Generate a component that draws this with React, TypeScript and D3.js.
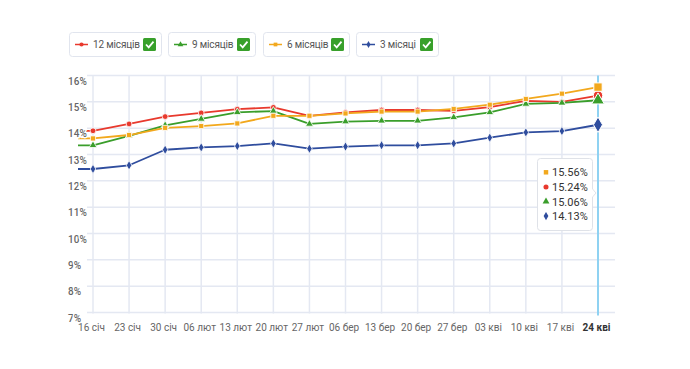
import React from "react";
import * as d3 from "d3";

// week labels on the x axis
const weeks = [
  "16 січ", "23 січ", "30 січ", "06 лют", "13 лют", "20 лют", "27 лют",
  "06 бер", "13 бер", "20 бер", "27 бер", "03 кві", "10 кві", "17 кві", "24 кві",
];

// yields in %, one array per deposit term
const months12 = [13.9, 14.16, 14.44, 14.58, 14.72, 14.79, 14.47, 14.6, 14.69, 14.69, 14.66, 14.8, 15.04, 15.0, 15.24];
const months9 = [13.35, 13.71, 14.11, 14.35, 14.6, 14.65, 14.16, 14.25, 14.28, 14.28, 14.41, 14.6, 14.92, 14.96, 15.06];
const months6 = [13.61, 13.74, 14.01, 14.08, 14.18, 14.47, 14.47, 14.56, 14.63, 14.63, 14.73, 14.89, 15.11, 15.31, 15.56];
const months3 = [12.45, 12.59, 13.18, 13.27, 13.32, 13.42, 13.22, 13.3, 13.35, 13.35, 13.42, 13.64, 13.84, 13.89, 14.13];

const yTicks = [7, 8, 9, 10, 11, 12, 13, 14, 15, 16];

const series = [
  { name: "12 місяців", values: months12, color: "#e8392d", symbol: d3.symbolCircle },
  { name: "9 місяців", values: months9, color: "#3a9e2b", symbol: d3.symbolTriangle },
  { name: "6 місяців", values: months6, color: "#f2a81d", symbol: d3.symbolSquare },
  { name: "3 місяці", values: months3, color: "#2f4d9e", symbol: d3.symbolDiamond },
];

// legend box extents (left, right)
const legendBoxes = [
  [69, 161],
  [168, 255],
  [263, 349],
  [356, 438],
];

const W = 690;
const H = 369;
const FONT = "Roboto, 'Noto Sans', sans-serif";

export default function App() {
  const x = d3.scalePoint<string>().domain(weeks).range([93, 598]);
  const y = d3.scaleLinear().domain([7, 16]).range([312.5, 75.5]);

  const lastIdx = weeks.length - 1;
  const hoverX = x(weeks[lastIdx]) as number;

  const lineGen = d3
    .line<[number, number]>()
    .x((d) => d[0])
    .y((d) => d[1]);

  const sym = (type: d3.SymbolType, size: number) =>
    d3.symbol().type(type).size(size)() as string;

  const tooltipRows = [...series].sort(
    (a, b) => b.values[lastIdx] - a.values[lastIdx]
  );

  return (
    <svg
      width={W}
      height={H}
      style={{ position: "absolute", left: 0, top: 0, background: "#fff" }}
      fontFamily={FONT}
    >
      {/* legend */}
      {series.map((s, i) => {
        const [l, r] = legendBoxes[i];
        const cy = 44.5;
        return (
          <g key={s.name}>
            <rect x={l + 0.5} y={32.5} width={r - l} height={24} rx={3} fill="#fff" stroke="#e1e5ee" />
            <line x1={l + 6} x2={l + 19} y1={cy} y2={cy} stroke={s.color} strokeWidth={1.5} />
            <path d={sym(s.symbol, 14)} transform={`translate(${l + 12.5},${cy})`} fill={s.color} />
            <text x={l + 24} y={cy + 3.5} fontSize={10} letterSpacing={-0.15} fill="#555">
              {s.name}
            </text>
            <rect x={r - 18} y={cy - 6.5} width={13} height={13} rx={1.5} fill="#38a02b" />
            <path
              d={`M${r - 15},${cy} L${r - 12.3},${cy + 2.8} L${r - 7.5},${cy - 2.8}`}
              fill="none"
              stroke="#fff"
              strokeWidth={1.8}
            />
          </g>
        );
      })}

      {/* grid */}
      {yTicks.map((t) => (
        <line key={t} x1={87} x2={615} y1={y(t)} y2={y(t)} stroke="#e4e8f2" strokeWidth={1.5} />
      ))}
      {weeks.map((w) => (
        <line key={w} x1={x(w)} x2={x(w)} y1={y(16)} y2={y(7) + 1} stroke="#e4e8f2" strokeWidth={1.5} />
      ))}

      {/* x labels */}
      {weeks.map((w, i) => (
        <text
          key={w}
          x={(x(w) as number) - 1.5}
          y={330.5}
          textAnchor="middle"
          fontSize={10}
          fill={i === lastIdx ? "#333" : "#666"}
          fontWeight={i === lastIdx ? 700 : 400}
        >
          {w}
        </text>
      ))}

      {/* hover line */}
      <line x1={hoverX} x2={hoverX} y1={y(16)} y2={y(7) + 3} stroke="#8fd2f2" strokeWidth={2} />

      {/* series lines */}
      {series.map((s) => {
        const pts: [number, number][] = s.values.map((v, i) => [x(weeks[i]) as number, y(v)]);
        const lead: [number, number] = [pts[0][0] - 15, pts[0][1]];
        return (
          <path
            key={s.name}
            d={lineGen([lead, ...pts]) as string}
            fill="none"
            stroke={s.color}
            strokeWidth={1.8}
            strokeLinejoin="round"
          />
        );
      })}

      {/* markers */}
      {series.map((s) => (
        <g key={s.name}>
          {s.values.map((v, i) => (
            <path
              key={i}
              d={sym(s.symbol, i === lastIdx ? 70 : 26)}
              transform={`translate(${x(weeks[i])},${y(v)})`}
              fill={s.color}
              stroke="#fff"
              strokeWidth={i === lastIdx ? 1 : 0.8}
            />
          ))}
        </g>
      ))}

      {/* y labels with white halo */}
      {yTicks.map((t) => (
        <text
          key={t}
          x={68}
          y={y(t) + 9}
          fontSize={10}
          fontWeight={500}
          fill="#666"
          stroke="#fff"
          strokeWidth={3}
          paintOrder="stroke"
        >
          {t}%
        </text>
      ))}

      {/* tooltip */}
      <g>
        <rect x={537.5} y={158.5} width={55} height={72} rx={3} fill="#fff" stroke="#dfe2e8" />
        <path d="M592.5,189 L596,193 L592.5,197" fill="#fff" stroke="#dfe2e8" />
        <line x1={592.5} x2={592.5} y1={189.5} y2={196.5} stroke="#fff" strokeWidth={1.2} />
        {tooltipRows.map((s, i) => {
          const cy = 172.3 + i * 14.6;
          return (
            <g key={s.name}>
              <path d={sym(s.symbol, 20)} transform={`translate(546,${cy})`} fill={s.color} />
              <text x={552} y={cy + 4} fontSize={11} fill="#333">
                {s.values[lastIdx].toFixed(2)}%
              </text>
            </g>
          );
        })}
      </g>
    </svg>
  );
}
